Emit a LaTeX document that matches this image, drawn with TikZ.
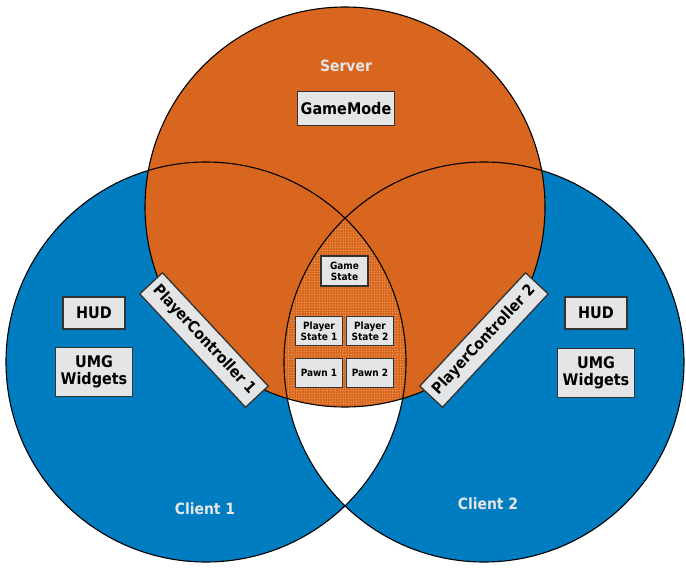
\documentclass[tikz,border=0pt]{standalone}
\usepackage{fontspec}
\setmainfont{DejaVu Sans Condensed}
\usetikzlibrary{patterns.meta}
\definecolor{srvorange}{HTML}{D8661E}
\definecolor{clblue}{HTML}{007DC0}
\definecolor{boxgray}{HTML}{E4E5E7}
\definecolor{boxedge}{HTML}{333333}
\definecolor{hatch}{HTML}{F2A866}
\definecolor{lbl}{HTML}{E6E6E6}
\tikzset{
  box/.style={draw=boxedge, line width=1.3pt, fill=boxgray, inner sep=0pt, align=center, font=\bfseries\fontsize{16}{16.5}\selectfont, text=black},
  smallbox/.style={box, line width=1.1pt, minimum width=47pt, minimum height=29pt, font=\bfseries\fontsize{10}{11}\selectfont},
  pcbox/.style={box, minimum width=155pt, minimum height=31pt, font=\bfseries\fontsize{15.5}{15.5}\selectfont},
  title/.style={text=lbl, font=\bfseries\fontsize{15.5}{15.5}\selectfont},
  ring/.style={draw=black, line width=1.1pt}
}
\begin{document}
\begin{tikzpicture}[x=1pt,y=-1pt]
\useasboundingbox (0,0) rectangle (686,578);
\coordinate (S) at (345,207);
\coordinate (L) at (206,362);
\coordinate (R) at (484,362);
% blue clients
\fill[clblue] (L) circle[radius=200];
\fill[clblue] (R) circle[radius=200];
% white lens
\begin{scope}
  \clip (L) circle[radius=200];
  \fill[white] (R) circle[radius=200];
\end{scope}
% server
\fill[srvorange] (S) circle[radius=200];
% hatched center
\begin{scope}
  \clip (L) circle[radius=200];
  \clip (R) circle[radius=200];
  \fill[srvorange] (S) circle[radius=200];
  \fill[pattern={Dots[distance=2.6pt, radius=0.65pt]}, pattern color=hatch] (S) circle[radius=200];
\end{scope}
% outlines
\draw[ring] (S) circle[radius=200];
\draw[ring] (L) circle[radius=200];
\draw[ring] (R) circle[radius=200];
% labels
\node[title] (server) at (346,66) {Server};
\node[title] (client1) at (205,509) {Client 1};
\node[title] (client2) at (488,504) {Client 2};
% boxes
\node[box, minimum width=97pt, minimum height=34pt] (gamemode) at (346,108.5) {GameMode};
\node[box, minimum width=62pt, minimum height=32pt] (hud1) at (94,313) {HUD};
\node[box, minimum width=77pt, minimum height=49pt] (umg1) at (94,372) {UMG\\Widgets};
\node[box, minimum width=62pt, minimum height=32pt] (hud2) at (596,313) {HUD};
\node[box, minimum width=77pt, minimum height=49pt] (umg2) at (596,373) {UMG\\Widgets};
\node[pcbox, rotate=-47] (pc1) at (204,340) {PlayerController 1};
\node[pcbox, rotate=47] (pc2) at (484,340) {PlayerController 2};
\node[smallbox, minimum height=30pt] (gamestate) at (344.5,271) {Game\\State};
\node[smallbox] (ps1) at (319,331) {Player\\State 1};
\node[smallbox] (ps2) at (370,331) {Player\\State 2};
\node[smallbox] (pawn1) at (319,373) {Pawn 1};
\node[smallbox] (pawn2) at (370,373) {Pawn 2};
\end{tikzpicture}
\end{document}
